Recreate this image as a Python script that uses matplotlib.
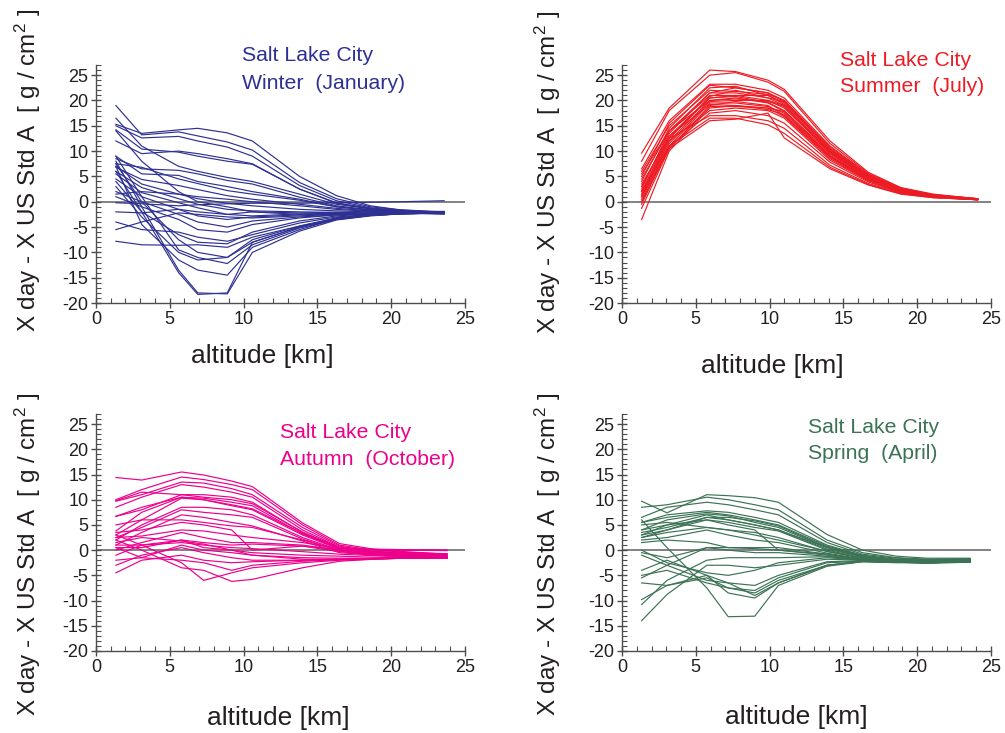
import matplotlib
matplotlib.use('Agg')
import matplotlib.pyplot as plt
from matplotlib.ticker import MultipleLocator

plt.rcParams['font.family'] = ['Liberation Sans', 'DejaVu Sans']
plt.rcParams['axes.unicode_minus'] = False
plt.rcParams['mathtext.fontset'] = 'custom'
plt.rcParams['mathtext.rm'] = 'Liberation Sans'
plt.rcParams['mathtext.it'] = 'Liberation Sans'

# altitudes of the sounding levels [km] for each season
alt_winter = [1.35, 3.1, 5.6, 6.9, 8.9, 10.6, 13.8, 16.3, 18.6, 20.6, 23.6]
alt_summer = [1.33, 3.2, 5.95, 7.7, 9.9, 11.0, 14.1, 16.7, 18.9, 21.1, 24.1]
alt_autumn = [1.35, 3.1, 5.8, 7.3, 9.2, 10.6, 14.0, 16.5, 18.8, 20.9, 23.8]
alt_spring = [1.33, 3.05, 5.75, 7.2, 9.0, 10.6, 13.9, 16.3, 18.6, 20.7, 23.6]

# X day - X US Std A [g/cm2], one list per day
winter_days = [
    [15.3, 13.5, 14.2, 14.5, 13.6, 12.0, 5.0, 1.2, -0.8, -1.6, -2.0],
    [19.0, 13.2, 13.8, 13.0, 11.8, 10.2, 3.8, 0.6, -1.0, -1.6, -2.1],
    [15.0, 12.6, 12.9, 12.0, 10.8, 9.0, 3.2, 0.2, -1.2, -1.7, -2.1],
    [14.2, 10.4, 9.8, 9.0, 8.0, 7.4, 2.5, -0.2, -1.3, -1.8, -2.2],
    [16.5, 11.0, 7.0, 6.0, 4.8, 4.0, 1.5, -0.5, -1.4, -1.9, -2.2],
    [8.5, 6.5, 6.2, 5.5, 4.2, 3.5, 0.9, -0.8, -1.6, -2.0, -2.3],
    [9.0, 5.5, 5.2, 4.0, 3.0, 2.0, 0.5, -1.0, -1.7, -2.0, -2.3],
    [7.5, 6.8, 4.5, 3.6, 2.2, 1.5, 0.3, -1.0, -1.6, -2.0, -2.2],
    [6.8, 4.4, 3.2, 2.4, 1.2, 0.5, -0.5, -1.3, -1.8, -2.1, -2.4],
    [7.0, 3.5, 1.5, 0.6, -0.3, -0.8, -1.5, -1.8, -2.0, -2.2, -2.4],
    [6.0, 2.8, 0.6, -0.5, -1.5, -1.8, -2.0, -2.1, -2.2, -2.3, -2.4],
    [5.5, 1.8, -0.2, -1.2, -2.5, -2.8, -2.4, -2.3, -2.3, -2.3, -2.3],
    [14.0, 8.0, 2.0, 0.0, -1.0, -2.0, -2.5, -2.4, -2.3, -2.2, -2.2],
    [4.5, 1.0, -1.5, -2.8, -3.5, -3.0, -2.6, -2.4, -2.3, -2.2, -2.1],
    [2.0, 0.0, -2.5, -4.0, -5.0, -3.8, -3.0, -2.6, -2.4, -2.3, -2.2],
    [1.0, -1.0, -3.5, -5.5, -6.0, -4.5, -3.2, -2.6, -2.3, -2.2, -2.0],
    [-0.2, -0.4, -0.8, -0.6, -0.4, -0.3, -0.3, -0.2, -0.1, 0.0, 0.2],
    [-2.0, -2.2, -1.5, -2.0, -2.5, -2.0, -2.2, -2.1, -2.0, -2.0, -1.9],
    [-5.5, -4.0, -2.2, -2.5, -3.0, -3.2, -2.8, -2.5, -2.3, -2.1, -2.0],
    [-7.8, -8.5, -8.6, -8.5, -9.0, -7.0, -4.8, -3.2, -2.6, -2.3, -2.1],
    [4.0, -2.0, -6.5, -8.0, -8.3, -6.0, -3.8, -2.8, -2.4, -2.2, -2.1],
    [7.5, 0.0, -7.5, -10.0, -11.0, -8.0, -5.0, -3.2, -2.6, -2.3, -2.1],
    [9.0, 1.0, -9.5, -11.0, -12.2, -8.5, -5.2, -3.5, -2.7, -2.4, -2.2],
    [3.0, -3.0, -10.0, -11.5, -11.0, -7.5, -4.8, -3.3, -2.6, -2.4, -2.2],
    [6.0, -2.0, -14.0, -18.3, -18.0, -8.0, -5.0, -3.5, -2.7, -2.4, -2.2],
    [8.0, -1.0, -13.5, -18.0, -18.2, -10.0, -5.8, -3.6, -2.8, -2.4, -2.2],
    [7.0, -4.5, -11.5, -13.5, -14.5, -9.0, -5.5, -3.4, -2.7, -2.4, -2.1],
    [-4.0, -5.5, -6.0, -7.0, -7.8, -6.5, -4.2, -3.0, -2.5, -2.3, -2.1],
    [1.5, 2.0, 1.5, 1.0, 0.5, 0.0, -0.8, -1.5, -1.9, -2.1, -2.3],
    [12.0, 9.5, 10.0, 9.5, 8.5, 7.5, 2.5, -0.3, -1.4, -1.9, -2.2],
]

summer_days = [
    [9.6, 18.5, 26.0, 25.7, 24.0, 22.2, 12.0, 5.8, 2.8, 1.5, 0.6],
    [8.0, 18.0, 25.0, 25.5, 23.6, 21.8, 11.5, 5.6, 2.7, 1.4, 0.6],
    [6.5, 16.0, 23.2, 23.2, 22.0, 20.5, 11.0, 5.4, 2.6, 1.3, 0.6],
    [5.0, 15.5, 23.0, 22.5, 21.5, 20.0, 10.5, 5.2, 2.5, 1.3, 0.5],
    [4.0, 14.5, 22.5, 22.8, 21.0, 19.5, 10.3, 5.0, 2.4, 1.2, 0.5],
    [6.0, 15.0, 22.0, 21.8, 21.2, 20.0, 10.8, 5.3, 2.5, 1.3, 0.6],
    [3.0, 13.5, 21.5, 21.5, 20.5, 19.0, 10.0, 4.9, 2.3, 1.2, 0.5],
    [2.5, 14.0, 21.0, 21.0, 20.0, 18.5, 9.8, 4.8, 2.2, 1.1, 0.5],
    [1.5, 12.5, 20.8, 22.0, 20.5, 19.8, 10.2, 5.0, 2.3, 1.2, 0.5],
    [2.0, 13.0, 20.5, 20.8, 19.6, 18.0, 9.5, 4.6, 2.1, 1.1, 0.5],
    [1.0, 12.0, 20.0, 20.5, 19.5, 17.8, 9.2, 4.5, 2.1, 1.0, 0.5],
    [0.5, 11.5, 19.8, 20.0, 20.0, 19.0, 9.8, 4.7, 2.2, 1.1, 0.5],
    [-0.5, 11.0, 19.5, 19.5, 18.8, 17.5, 9.0, 4.4, 2.0, 1.0, 0.5],
    [-1.3, 10.5, 19.0, 19.8, 19.0, 17.0, 8.8, 4.3, 2.0, 1.0, 0.4],
    [-3.5, 10.0, 18.5, 19.0, 18.5, 16.8, 8.5, 4.2, 1.9, 1.0, 0.4],
    [1.2, 12.0, 18.0, 18.5, 18.0, 16.5, 8.2, 4.1, 1.9, 0.9, 0.4],
    [0.0, 11.0, 17.5, 18.0, 17.0, 15.5, 7.8, 3.9, 1.8, 0.9, 0.4],
    [3.5, 12.5, 17.0, 17.0, 16.0, 14.5, 7.2, 3.6, 1.7, 0.9, 0.4],
    [2.0, 11.0, 16.5, 16.5, 15.2, 13.5, 6.8, 3.4, 1.6, 0.8, 0.4],
    [1.0, 10.5, 16.0, 16.3, 17.5, 12.6, 6.5, 3.3, 1.5, 0.8, 0.4],
    [4.5, 14.0, 20.0, 20.3, 19.8, 18.8, 9.6, 4.7, 2.2, 1.1, 0.5],
    [3.0, 13.0, 19.2, 19.0, 18.2, 17.2, 8.8, 4.3, 2.0, 1.0, 0.5],
    [5.5, 14.0, 21.5, 22.5, 21.5, 19.8, 10.5, 5.1, 2.4, 1.2, 0.5],
    [2.0, 12.5, 20.5, 21.0, 21.0, 19.2, 9.9, 4.8, 2.2, 1.1, 0.5],
    [0.0, 10.5, 18.8, 18.8, 18.5, 17.8, 9.0, 4.5, 2.1, 1.0, 0.5],
]

autumn_days = [
    [14.4, 13.9, 15.5, 14.9, 13.7, 12.6, 5.4, 1.3, 0.2, -0.3, -0.8],
    [10.0, 12.0, 14.5, 14.0, 13.0, 12.0, 5.0, 1.0, 0.0, -0.4, -0.9],
    [9.7, 11.0, 13.5, 13.3, 12.2, 11.0, 4.5, 0.8, -0.3, -0.6, -1.0],
    [8.5, 10.5, 13.0, 12.5, 11.5, 10.5, 4.0, 0.6, -0.4, -0.7, -1.1],
    [6.7, 8.0, 11.0, 11.0, 10.5, 9.5, 3.5, 0.4, -0.5, -0.8, -1.2],
    [3.8, 7.5, 10.5, 10.3, 9.5, 8.8, 3.2, 0.3, -0.6, -0.9, -1.3],
    [3.0, 6.0, 10.3, 10.0, 8.8, 8.0, 3.0, 0.2, -0.7, -1.0, -1.3],
    [2.0, 5.0, 8.5, 8.5, 8.0, 7.0, 2.5, 0.0, -0.8, -1.1, -1.4],
    [2.5, 4.5, 8.0, 7.5, 7.0, 6.5, 2.2, -0.2, -0.9, -1.2, -1.5],
    [1.0, 3.5, 7.0, 6.5, 5.5, 4.8, 1.8, -0.5, -1.0, -1.3, -1.5],
    [5.0, 6.0, 6.0, 5.5, 4.8, 4.5, 2.0, 0.0, -0.3, -0.5, -0.7],
    [3.5, 4.0, 5.5, 5.0, 4.0, 0.0, 0.8, 0.1, -0.3, -0.5, -0.8],
    [0.0, 1.5, 3.5, 2.5, 1.5, 1.5, 1.0, 0.0, -0.8, -1.1, -1.4],
    [-1.0, 1.0, 2.0, 1.5, 1.0, 1.2, 0.8, -0.3, -0.9, -1.2, -1.5],
    [1.0, 1.0, 1.5, 1.0, 0.5, 0.3, -0.3, -0.8, -1.1, -1.3, -1.6],
    [0.5, 0.5, 2.0, 0.5, 0.0, -0.5, -1.0, -1.2, -1.4, -1.5, -1.6],
    [-2.0, -1.5, 1.0, 0.0, -0.5, -1.0, -1.5, -1.6, -1.6, -1.6, -1.6],
    [-3.0, -1.0, 0.5, -0.5, -1.5, -2.0, -2.0, -1.8, -1.7, -1.6, -1.5],
    [-4.5, -2.0, -1.0, -2.0, -2.5, -2.3, -2.0, -1.8, -1.7, -1.6, -1.5],
    [3.0, 1.0, -2.5, -6.0, -4.5, -3.5, -2.5, -2.0, -1.8, -1.6, -1.5],
    [2.0, 0.0, -3.5, -4.0, -6.2, -5.8, -3.5, -2.2, -1.8, -1.6, -1.5],
    [0.5, -1.5, -2.0, -2.5, -4.0, -3.0, -2.2, -1.9, -1.7, -1.6, -1.5],
    [6.7, 8.5, 10.5, 10.0, 9.0, 8.2, 3.3, 0.3, 0.1, 0.0, -0.1],
    [9.8, 11.5, 11.0, 10.5, 10.0, 9.2, 3.6, 0.5, 0.2, 0.1, 0.0],
    [2.5, 2.8, 4.0, 3.8, 3.0, 2.5, 1.5, 0.3, 0.0, 0.0, 0.0],
    [1.5, 2.5, 1.8, 1.2, 0.0, -1.0, -1.8, -1.8, -1.7, -1.6, -1.5],
]

spring_days = [
    [9.7, 7.4, 11.0, 10.8, 10.4, 9.5, 3.1, 0.0, -1.2, -1.6, -1.6],
    [8.5, 9.0, 10.5, 10.0, 9.0, 8.0, 2.0, -0.5, -1.5, -1.8, -1.7],
    [6.5, 8.5, 9.5, 9.0, 8.0, 7.0, 1.5, -0.8, -1.6, -1.9, -1.8],
    [5.5, 7.0, 7.8, 7.5, 6.5, 5.5, 1.0, -1.0, -1.8, -2.0, -1.8],
    [5.5, 6.5, 7.5, 7.0, 6.0, 5.0, 0.8, -1.1, -1.9, -2.1, -1.9],
    [4.0, 6.0, 7.2, 6.8, 5.5, 4.5, 0.5, -1.2, -2.0, -2.2, -2.0],
    [4.0, 5.0, 7.0, 6.0, 5.0, 4.0, 0.2, -1.3, -2.0, -2.2, -2.0],
    [3.5, 4.5, 6.5, 6.5, 5.8, 4.8, 0.6, -1.2, -2.0, -2.2, -2.0],
    [3.0, 4.0, 6.0, 5.5, 4.5, 3.8, 0.0, -1.5, -2.1, -2.3, -2.1],
    [2.5, 3.5, 4.5, 4.0, 3.5, 2.5, -0.3, -1.6, -2.2, -2.4, -2.2],
    [2.0, 2.5, 4.0, 3.0, 2.0, 1.5, -0.6, -1.8, -2.3, -2.5, -2.3],
    [3.0, 5.0, 6.0, 5.0, 4.0, 0.0, -0.8, -1.8, -2.3, -2.4, -2.2],
    [1.5, 2.0, 1.5, 0.5, 0.5, 0.5, -0.8, -1.8, -2.3, -2.5, -2.4],
    [-0.5, -1.5, 0.5, 0.5, 0.3, 0.0, -1.0, -2.0, -2.4, -2.6, -2.4],
    [0.0, -2.5, -4.5, -5.0, -4.0, -2.5, -1.5, -2.0, -2.4, -2.5, -2.3],
    [-5.5, -3.0, 0.5, 0.0, -0.5, -0.5, -1.2, -2.0, -2.4, -2.5, -2.3],
    [-5.0, -4.0, -6.5, -7.5, -8.0, -5.5, -2.5, -2.2, -2.4, -2.5, -2.3],
    [-6.5, -7.0, -5.0, -6.5, -7.0, -5.0, -2.3, -2.1, -2.4, -2.4, -2.2],
    [-14.0, -8.8, -3.0, -3.0, -3.5, -3.0, -1.8, -2.0, -2.3, -2.4, -2.2],
    [-10.8, -6.0, -2.0, -1.5, -1.5, -1.5, -1.3, -1.9, -2.3, -2.4, -2.2],
    [-9.8, -7.0, -5.5, -7.5, -8.5, -6.0, -3.0, -2.3, -2.5, -2.5, -2.3],
    [6.0, 0.5, -7.5, -13.2, -13.1, -7.0, -3.2, -2.3, -2.4, -2.4, -2.2],
    [-4.0, -2.0, -5.0, -8.5, -9.5, -6.5, -3.0, -2.2, -2.4, -2.5, -2.3],
    [-1.0, -3.0, -6.0, -6.5, -9.0, -6.5, -3.0, -2.2, -2.4, -2.4, -2.2],
    [5.0, 5.5, 4.5, 4.0, 3.0, 2.0, -0.2, -1.6, -2.2, -2.4, -2.2],
    [2.5, 4.0, 6.5, 6.0, 5.0, 4.0, 0.5, -1.3, -2.0, -2.2, -2.0],
]

season_titles = ['Winter  (January)', 'Summer  (July)',
                 'Autumn  (October)', 'Spring  (April)']
season_colors = ['#2e3192', '#ed1c24', '#ec008c', '#3b7354']

fig = plt.figure(figsize=(10.05, 7.33), dpi=100)

# [left, bottom, width, height] in figure fractions
boxes = [
    [0.0955, 0.5866, 0.367, 0.3247],
    [0.6189, 0.5866, 0.367, 0.3247],
    [0.0955, 0.1119, 0.367, 0.3233],
    [0.6189, 0.1119, 0.367, 0.3233],
]
title_pos = [(0.396, 1.038, 0.924), (0.591, 1.021, 0.908),
             (0.499, 0.924, 0.810), (0.504, 0.945, 0.835)]
ylabel_pos = [(0.028, 0.768), (0.545, 0.765), (0.028, 0.243), (0.545, 0.243)]
xlabel_pos = [(0.261, 0.514), (0.768, 0.500), (0.277, 0.021), (0.792, 0.022)]

panels = [(alt_winter, winter_days), (alt_summer, summer_days),
          (alt_autumn, autumn_days), (alt_spring, spring_days)]

axis_col = '#4d4d4d'
text_col = '#231f20'

for i, (alt, days) in enumerate(panels):
    ax = fig.add_axes(boxes[i])
    col = season_colors[i]
    ax.axhline(0, color='#6d6d6d', lw=1.2, zorder=1)
    for d in days:
        ax.plot(alt, d, color=col, lw=0.85, zorder=2)

    ax.set_xlim(0, 25)
    ax.set_ylim(-20, 27)
    ax.xaxis.set_major_locator(MultipleLocator(5))
    ax.xaxis.set_minor_locator(MultipleLocator(1))
    ax.set_yticks(range(-20, 26, 5))
    ax.yaxis.set_minor_locator(MultipleLocator(1))
    ax.tick_params(which='major', direction='inout', length=7, width=1,
                   color=axis_col, labelsize=13, labelcolor=text_col, pad=2)
    ax.tick_params(which='minor', direction='in', length=3.5, width=0.8,
                   color=axis_col)
    for s in ['top', 'right']:
        ax.spines[s].set_visible(False)
    for s in ['left', 'bottom']:
        ax.spines[s].set_color(axis_col)
        ax.spines[s].set_linewidth(1)
    ax.patch.set_visible(False)

    tx, ty1, ty2 = title_pos[i]
    ax.text(tx, ty1, 'Salt Lake City', transform=ax.transAxes, color=col,
            fontsize=15.3, va='center', ha='left')
    ax.text(tx, ty2, season_titles[i], transform=ax.transAxes, color=col,
            fontsize=15.3, va='center', ha='left')

    fig.text(ylabel_pos[i][0], ylabel_pos[i][1],
             r'X day - X US Std A  [ g / cm$^2$ ]', rotation=90,
             fontsize=17.5, color=text_col, ha='center', va='center')
    fig.text(xlabel_pos[i][0], xlabel_pos[i][1], 'altitude [km]',
             fontsize=19, color=text_col, ha='center', va='center')

fig.savefig('out.png', dpi=100)
